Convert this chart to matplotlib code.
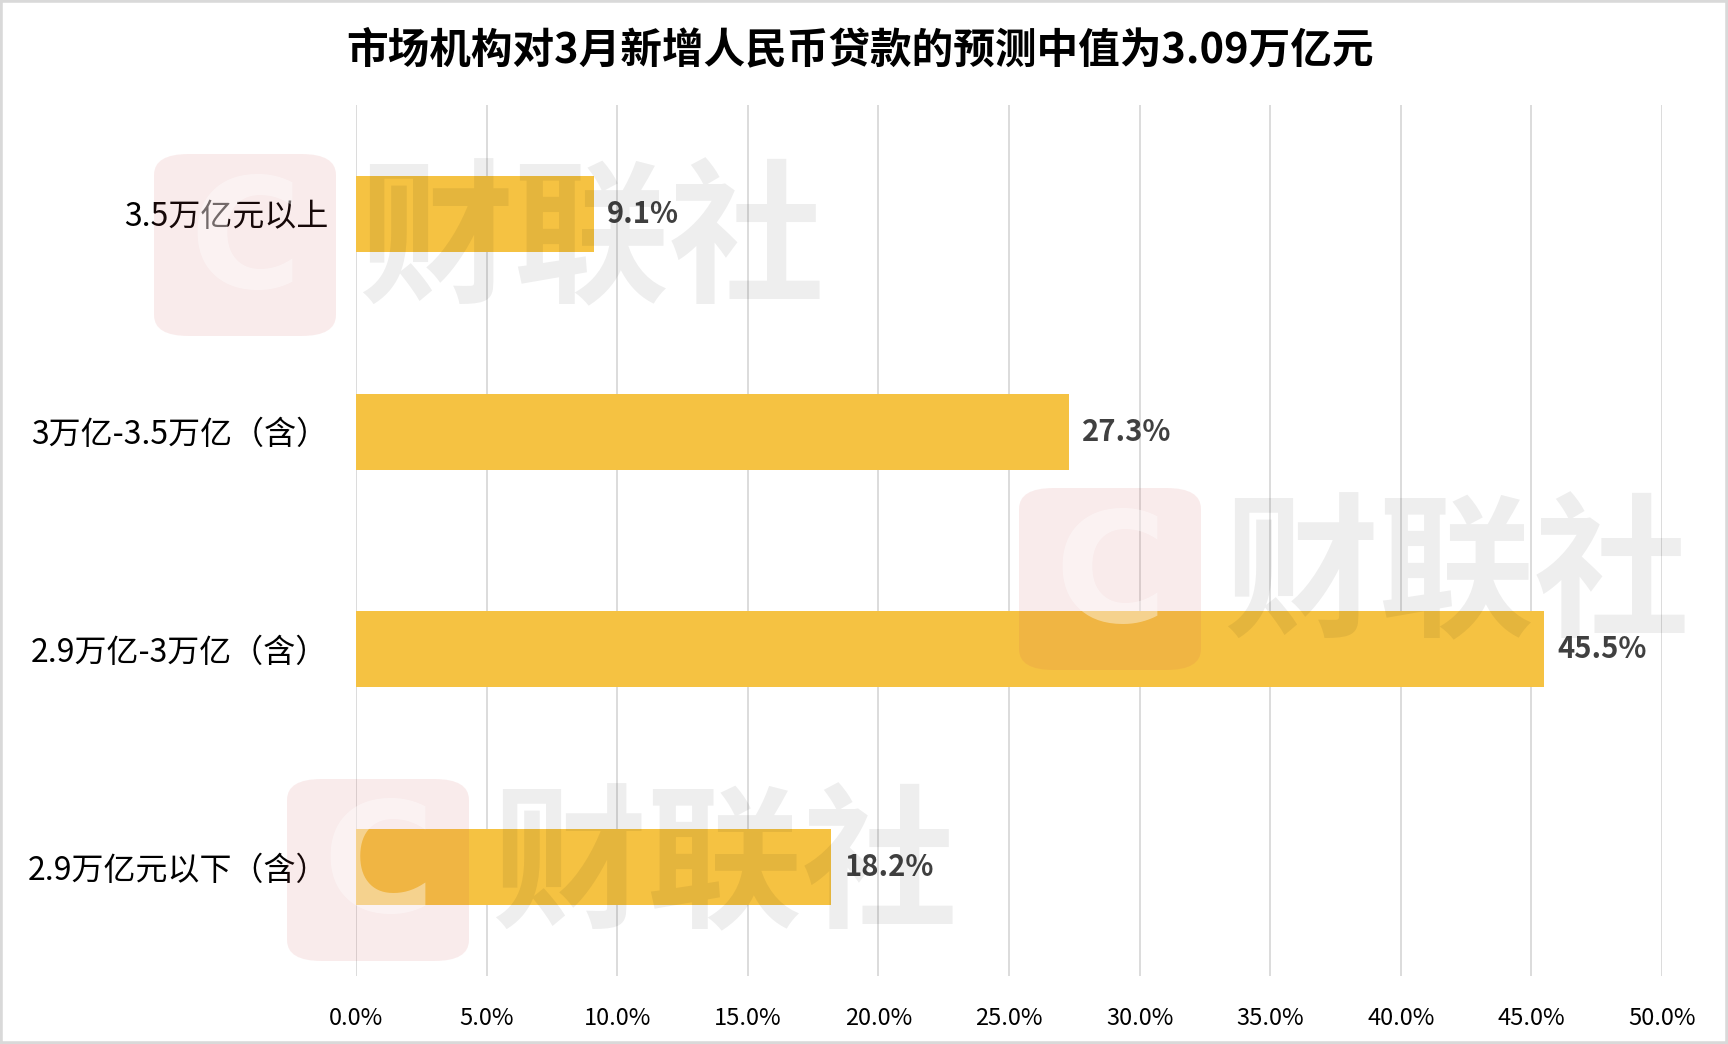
import matplotlib
matplotlib.use('Agg')
import matplotlib.pyplot as plt
from matplotlib.patches import FancyBboxPatch, Rectangle
from matplotlib.ticker import FuncFormatter

plt.rcParams['font.family'] = ['Noto Sans CJK SC', 'DejaVu Sans']

TITLE = "市场机构对3月新增人民币贷款的预测中值为3.09万亿元"
# bottom to top
categories = ['2.9万亿元以下（含）', '2.9万亿-3万亿（含）', '3万亿-3.5万亿（含）', '3.5万亿元以上']
shares = [18.2, 45.5, 27.3, 9.1]
xticks = [0, 5, 10, 15, 20, 25, 30, 35, 40, 45, 50]

BAR_COLOR = '#F5C242'
GRID_COLOR = '#D9D9D9'
W, H = 1728, 1044

fig = plt.figure(figsize=(W / 100, H / 100), dpi=100)
ax = fig.add_axes([356 / W, 1 - 976 / H, (1662 - 356) / W, (976 - 105) / H])

ypos = list(range(len(categories)))
ax.barh(ypos, shares, height=0.35, color=BAR_COLOR, zorder=2)
for y, v in zip(ypos, shares):
    ax.text(v + 0.5, y, '{:.1f}%'.format(v), va='center', ha='left',
            fontsize=21, color='#404040', fontweight='bold', zorder=3)

ax.set_xlim(0, 50)
ax.set_ylim(-0.5, 3.5)
ax.set_xticks(xticks)
ax.xaxis.set_major_formatter(FuncFormatter(lambda v, p: '{:.1f}%'.format(v)))
ax.set_yticks(ypos)
ax.set_yticklabels(categories, fontsize=23)
ax.tick_params(axis='x', length=0, pad=22, labelsize=17)
ax.tick_params(axis='y', length=0, pad=20)
ax.grid(axis='x', color=GRID_COLOR, linewidth=1.3, zorder=0)
ax.set_axisbelow(True)
for s in ax.spines.values():
    s.set_visible(False)

fig.text(860 / W, 1 - 50 / H, TITLE, ha='center', va='center',
         fontsize=30, fontweight='bold', color='black')

# watermarks (pixel positions in figure)
marks = [(154, 154), (1019, 488), (287, 779)]
for bx, by in marks:
    size = 182
    badge = FancyBboxPatch((bx / W, 1 - (by + size) / H), size / W, size / H,
                           boxstyle='round,pad=0,rounding_size=0.02',
                           transform=fig.transFigure, facecolor='#D05050',
                           edgecolor='none', alpha=0.11, zorder=5)
    fig.add_artist(badge)
    fig.text((bx + size / 2) / W, 1 - (by + size / 2) / H, 'C', ha='center',
             va='center', fontsize=110, fontweight='black', color='white',
             alpha=0.4, family='DejaVu Sans', zorder=6)
    fig.text((bx + size + 22) / W, 1 - (by + size / 2) / H, '财联社', ha='left',
             va='center', fontsize=112, fontweight='black', color='black',
             alpha=0.065, zorder=6)

fig.add_artist(Rectangle((0, 0), 1, 1, transform=fig.transFigure, fill=False,
                         edgecolor=GRID_COLOR, linewidth=4, zorder=10))

fig.savefig('out.png', dpi=100)
